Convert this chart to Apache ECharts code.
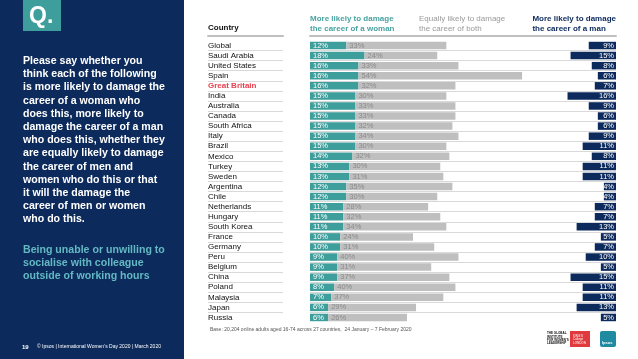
<!DOCTYPE html>
<html><head><meta charset="utf-8">
<script src="https://cdn.jsdelivr.net/npm/echarts@6/dist/echarts.min.js"></script>
<style>html,body{margin:0;padding:0;background:#fff}#c{width:638px;height:359px}</style>
</head><body><div id="c"></div>
<script>
const countries = ["Global","Saudi Arabia","United States","Spain","Great Britain","India","Australia","Canada","South Africa","Italy","Brazil","Mexico","Turkey","Sweden","Argentina","Chile","Netherlands","Hungary","South Korea","France","Germany","Peru","Belgium","China","Poland","Malaysia","Japan","Russia"];
const woman = [12,18,16,16,16,15,15,15,15,15,15,14,13,13,12,12,11,11,11,10,10,9,9,9,8,7,6,6];
const both  = [33,24,33,54,32,30,33,33,32,34,30,32,30,31,35,30,28,32,34,24,31,40,31,37,40,37,29,26];
const man   = [9,15,8,6,7,16,9,6,6,9,11,8,11,11,4,4,7,7,13,5,7,10,5,15,11,11,13,5];
const axisMax = 101;

const FONT = "'Liberation Sans', Arial, sans-serif";
const TEAL = '#3e9e9b', GREY = '#bfbfbf', NAVY = '#0d2a5c';
const gap = countries.map((_, i) => axisMax - woman[i] - both[i] - man[i]);

const chart = echarts.init(document.getElementById('c'));
const gridTop = 40.5, gridHeight = 282;
const pct = p => p.value + '%';
const rowLines = { show: true, showMinLine: false, showMaxLine: false, interval: 0, lineStyle: { color: '#d9d9d9', width: 1 } };
chart.setOption({
  animation: false,
  textStyle: { fontFamily: FONT },
  grid: [
    { left: 310, width: 306, top: gridTop, height: gridHeight },
    { left: 208, width: 75, top: gridTop, height: gridHeight }
  ],
  xAxis: [
    { gridIndex: 0, type: 'value', min: 0, max: axisMax, position: 'top', offset: 5,
      axisLine: { show: true, lineStyle: { color: '#bfbfbf', width: 2 } },
      axisTick: { show: false }, axisLabel: { show: false }, splitLine: { show: false } },
    { gridIndex: 1, type: 'value', min: 0, max: 1, position: 'top', offset: 5,
      axisLine: { show: true, lineStyle: { color: '#bfbfbf', width: 2 } },
      axisTick: { show: false }, axisLabel: { show: false }, splitLine: { show: false } }
  ],
  yAxis: [
    { gridIndex: 0, type: 'category', data: countries, inverse: true,
      axisLine: { show: false }, axisTick: { show: false }, axisLabel: { show: false },
      splitLine: rowLines },
    { gridIndex: 1, type: 'category', data: countries, inverse: true,
      axisLine: { show: false }, axisTick: { show: false },
      axisLabel: { inside: true, interval: 0, margin: 0, align: 'left', fontSize: 8, color: '#111', fontFamily: FONT,
        formatter: v => v === 'Great Britain' ? '{gb|' + v + '}' : v,
        rich: { gb: { color: '#e8414f', fontSize: 8, fontWeight: 'bold', fontFamily: FONT } } },
      splitLine: rowLines }
  ],
  series: [
    { type: 'bar', stack: 's', data: woman, barWidth: 7.5, itemStyle: { color: TEAL },
      label: { show: true, position: 'insideLeft', distance: 3, color: '#fff', fontSize: 7.5, formatter: pct } },
    { type: 'bar', stack: 's', data: both, itemStyle: { color: GREY },
      label: { show: true, position: 'insideLeft', distance: 3, color: '#8a8a8a', fontSize: 7.5, formatter: pct } },
    { type: 'bar', stack: 's', data: gap, itemStyle: { color: 'rgba(0,0,0,0)' }, silent: true },
    { type: 'bar', stack: 's', data: man, itemStyle: { color: NAVY },
      label: { show: true, position: 'insideRight', distance: 2, color: '#fff', fontSize: 7.5, formatter: pct } }
  ],
  graphic: [
    { type: 'rect', left: 0, top: 0, shape: { width: 184, height: 359 }, style: { fill: '#0c2a5b' }, z: -1 },
    { type: 'rect', left: 23, top: 0, shape: { width: 38, height: 31 }, style: { fill: TEAL } },
    { type: 'text', left: 29, top: 5, style: { text: 'Q.', fill: '#fff', font: 'bold 23px ' + FONT } },
    { type: 'text', left: 23, top: 54.5, style: { fill: '#fff', font: 'bold 10.6px ' + FONT, lineHeight: 13.2,
      text: 'Please say whether you\nthink each of the following\nis more likely to damage the\ncareer of a woman who\ndoes this, more likely to\ndamage the career of a man\nwho does this, whether they\nare equally likely to damage\nthe career of men and\nwomen who do this or that\nit will the damage the\ncareer of men or women\nwho do this.' } },
    { type: 'text', left: 23, top: 243.5, style: { fill: '#62b9c3', font: 'bold 10.6px ' + FONT, lineHeight: 13.2,
      text: 'Being unable or unwilling to\nsocialise with colleague\noutside of working hours' } },
    { type: 'text', left: 22, top: 344, style: { fill: '#fff', font: 'bold 6px ' + FONT, text: '19' } },
    { type: 'text', left: 37, top: 344.5, style: { fill: '#fff', font: '5px ' + FONT, text: '© Ipsos | International Women\u2019s Day 2020 | March 2020' } },
    { type: 'text', left: 208, top: 24, style: { fill: '#111', font: 'bold 8px ' + FONT, text: 'Country' } },
    { type: 'text', left: 310, top: 14, style: { fill: '#4aa3a0', font: 'bold 8px ' + FONT, lineHeight: 10, text: 'More likely to damage\nthe career of a woman' } },
    { type: 'text', left: 419, top: 14, style: { fill: '#9a9a9a', font: '8px ' + FONT, lineHeight: 10, text: 'Equally likely to damage\nthe career of both' } },
    { type: 'text', right: 22, top: 14, style: { fill: NAVY, font: 'bold 8px ' + FONT, lineHeight: 10, align: 'right', text: 'More likely to damage\nthe career of a man' } },
    { type: 'text', left: 210, top: 327, style: { fill: '#555', font: '5px ' + FONT, text: 'Base: 20,204 online adults aged 16-74 across 27 countries,  24 January \u2013 7 February 2020' } },
    { type: 'text', left: 547, top: 332, style: { fill: '#111', font: 'bold 3px ' + FONT, lineHeight: 3.2, text: 'THE GLOBAL\nINSTITUTE\nFOR WOMEN\u2019S\nLEADERSHIP' } },
    { type: 'rect', left: 570, top: 331, shape: { width: 20, height: 16 }, style: { fill: '#e03a3e' } },
    { type: 'text', left: 573, top: 334, style: { fill: '#fff', font: '3px ' + FONT, lineHeight: 3.5, text: 'KING\u2019S\nCollege\nLONDON' } },
    { type: 'rect', left: 600, top: 331, shape: { width: 16, height: 16, r: 2 }, style: { fill: '#1f8aa0' } },
    { type: 'text', left: 602, top: 341, style: { fill: '#fff', font: 'bold 4px ' + FONT, text: 'Ipsos' } }
  ]
});
</script></body></html>
